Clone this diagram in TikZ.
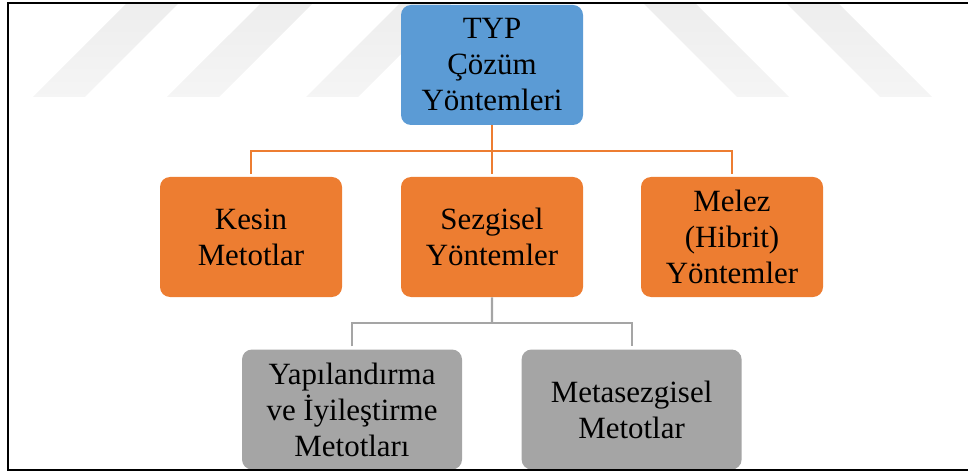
\documentclass[tikz,border=0pt]{standalone}
\usepackage{fontspec}
\setmainfont{Liberation Serif}
\usetikzlibrary{positioning, calc}

\definecolor{mavi}{HTML}{5B9BD5}
\definecolor{turuncu}{HTML}{ED7D31}
\definecolor{gri}{HTML}{A5A5A5}

\begin{document}
\begin{tikzpicture}[
  font=\fontsize{22}{25.6}\selectfont,
  kutu/.style={rounded corners=0.25cm, align=center, inner sep=2pt,
               minimum height=3.0cm},
  ustkutu/.style={kutu, fill=mavi, minimum width=4.55cm},
  ortakutu/.style={kutu, fill=turuncu, minimum width=4.55cm},
  altkutu/.style={kutu, fill=gri, minimum width=5.5cm},
  turuncuhat/.style={draw=turuncu, line width=1.5pt},
  grihat/.style={draw=gri, line width=1.5pt},
  filigran/.style={top color=black!7, bottom color=black!4}
]
\useasboundingbox (0,0) rectangle (24.2,11.775);

% ---- filigran seritleri (arka plan) ----------------------------------
\foreach \x in {0.825,4.175,7.65}
  \shade[filigran] (\x,9.35) -- (\x+1.3,9.35) -- (\x+3.65,11.7) -- (\x+2.35,11.7) -- cycle;
\foreach \x in {18.425,22.0}
  \shade[filigran] (\x,9.35) -- (\x+1.3,9.35) -- (\x-1.05,11.7) -- (\x-2.35,11.7) -- cycle;

% ---- kutular ------------------------------------------------------------
\node[ustkutu] (typ) at (12.3,10.15) {TYP\\Çözüm\\Yöntemleri};

\node[ortakutu] (kesin)    at (6.275,5.85) {Kesin\\Metotlar};
\node[ortakutu] (sezgisel) at (12.3,5.85)  {Sezgisel\\Yöntemler};
\node[ortakutu] (melez)    at (18.3,5.85)  {Melez\\(Hibrit)\\Yöntemler};

\node[altkutu] (yapi) at (8.8,1.5375)  {Yapılandırma\\ve İyileştirme\\Metotları};
\node[altkutu] (meta) at (15.79,1.5375) {Metasezgisel\\Metotlar};

% ---- baglantilar ----------------------------------------------------------
\coordinate (obus) at ($(typ.south)!0.5!(sezgisel.north)$);
\coordinate (gbus) at ($(sezgisel.south)!0.5!(yapi.north -| sezgisel.south)$);

\draw[turuncuhat, shorten >=2pt] (typ.south) -- (sezgisel.north);
\draw[turuncuhat, shorten <=2pt, shorten >=2pt] (kesin.north) |- (obus) -| (melez.north);

\draw[grihat] (sezgisel.south) -- (gbus);
\draw[grihat, shorten <=2pt, shorten >=2pt] (yapi.north) |- (gbus) -| (meta.north);

% ---- cerceve (sag kenar resmin disinda) -----------------------------------
\draw[line width=1.4pt] (24.3,11.7) -- (0.2,11.7) -- (0.2,0.025) -- (24.3,0.025);

\end{tikzpicture}
\end{document}
